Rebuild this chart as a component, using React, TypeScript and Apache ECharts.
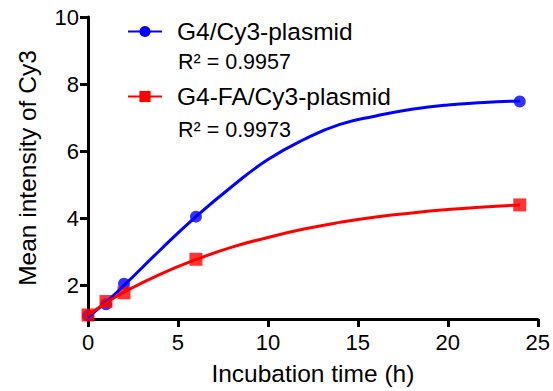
import React, { useEffect, useRef } from "react";
import * as echarts from "echarts";

const FONT = "'Liberation Sans', Arial, sans-serif";

const seriesNames = ["G4/Cy3-plasmid", "G4-FA/Cy3-plasmid"];
const rSquared = ["R² = 0.9957", "R² = 0.9973"];

// measured points
const timePoints = [0, 1, 2, 6, 24];
const g4Values = [1.1, 1.44, 2.05, 4.05, 7.48];
const g4faValues = [1.12, 1.52, 1.78, 2.78, 4.4];

// fitted curves
const fitTimes = [0, 1, 2, 4, 6, 8, 10, 12, 14, 16, 18, 20, 22, 24];
const g4Fit = [1.06, 1.5, 2.0, 3.05, 4.05, 4.95, 5.75, 6.35, 6.8, 7.05, 7.25, 7.38, 7.45, 7.5];
const g4faFit = [1.12, 1.48, 1.8, 2.33, 2.77, 3.14, 3.43, 3.68, 3.88, 4.04, 4.16, 4.26, 4.34, 4.4];

const yTicks = [2, 4, 6, 8, 10];
const xTicks = [0, 5, 10, 15, 20, 25];

const BLUE = "#0000ff";
const RED = "#ff0000";

function pairs(xs: number[], ys: number[]) {
  return xs.map((x, i) => [x, ys[i]]);
}

export default function App() {
  const ref = useRef<HTMLDivElement>(null);
  useEffect(() => {
    if (!ref.current) return;
    const chart = echarts.init(ref.current, null, { renderer: "svg" });
    chart.setOption({
      animation: false,
      backgroundColor: "#ffffff",
      textStyle: { fontFamily: FONT },
      grid: { left: 88, right: 13, top: 17, bottom: 72, containLabel: false },
      legend: {
        orient: "vertical",
        left: 127,
        top: 19,
        padding: 0,
        itemWidth: 34,
        itemHeight: 14,
        itemGap: 40,
        data: seriesNames,
        textStyle: {
          fontSize: 24.5,
          lineHeight: 24,
          color: "#000",
          fontFamily: FONT,
          padding: [0, 0, 0, 10],
        },
      },
      graphic: [
        {
          type: "text",
          left: 178,
          top: 51,
          style: { text: rSquared[0], fontSize: 21.5, fill: "#000", fontFamily: FONT },
        },
        {
          type: "text",
          left: 178,
          top: 119,
          style: { text: rSquared[1], fontSize: 21.5, fill: "#000", fontFamily: FONT },
        },
      ],
      xAxis: {
        type: "value",
        min: 0,
        max: 25,
        interval: 5,
        name: "Incubation time (h)",
        nameLocation: "middle",
        nameGap: 42,
        nameTextStyle: { fontSize: 24.5, color: "#000", fontFamily: FONT },
        splitLine: { show: false },
        axisLine: { show: true, onZero: false, lineStyle: { color: "#000", width: 3 } },
        axisTick: { show: true, length: 8, lineStyle: { color: "#000", width: 3 }, customValues: xTicks },
        axisLabel: { fontSize: 22, color: "#000", margin: 12, fontFamily: FONT, customValues: xTicks },
      },
      yAxis: {
        type: "value",
        min: 1,
        max: 10,
        name: "Mean intensity of Cy3",
        nameLocation: "middle",
        nameGap: 48,
        nameTextStyle: { fontSize: 24.5, color: "#000", fontFamily: FONT },
        splitLine: { show: false },
        axisLine: { show: true, onZero: false, lineStyle: { color: "#000", width: 3 } },
        axisTick: { show: true, length: 8, lineStyle: { color: "#000", width: 3 }, customValues: yTicks },
        axisLabel: { fontSize: 22, color: "#000", margin: 9, fontFamily: FONT, customValues: yTicks },
      },
      series: [
        {
          name: seriesNames[0],
          type: "line",
          data: pairs(fitTimes, g4Fit),
          smooth: true,
          symbol: "circle",
          showSymbol: false,
          color: BLUE,
          lineStyle: { color: BLUE, width: 3 },
          itemStyle: { color: BLUE },
        },
        {
          name: seriesNames[0],
          type: "scatter",
          data: pairs(timePoints, g4Values),
          symbol: "circle",
          symbolSize: 12,
          itemStyle: { color: BLUE },
        },
        {
          name: seriesNames[1],
          type: "line",
          data: pairs(fitTimes, g4faFit),
          smooth: true,
          symbol: "rect",
          showSymbol: false,
          color: RED,
          lineStyle: { color: RED, width: 3 },
          itemStyle: { color: RED },
        },
        {
          name: seriesNames[1],
          type: "scatter",
          data: pairs(timePoints, g4faValues),
          symbol: "rect",
          symbolSize: 13,
          itemStyle: { color: RED },
        },
      ],
    });
    return () => chart.dispose();
  }, []);
  return <div ref={ref} style={{ width: 553, height: 391, position: "absolute", left: 0, top: 0 }} />;
}
